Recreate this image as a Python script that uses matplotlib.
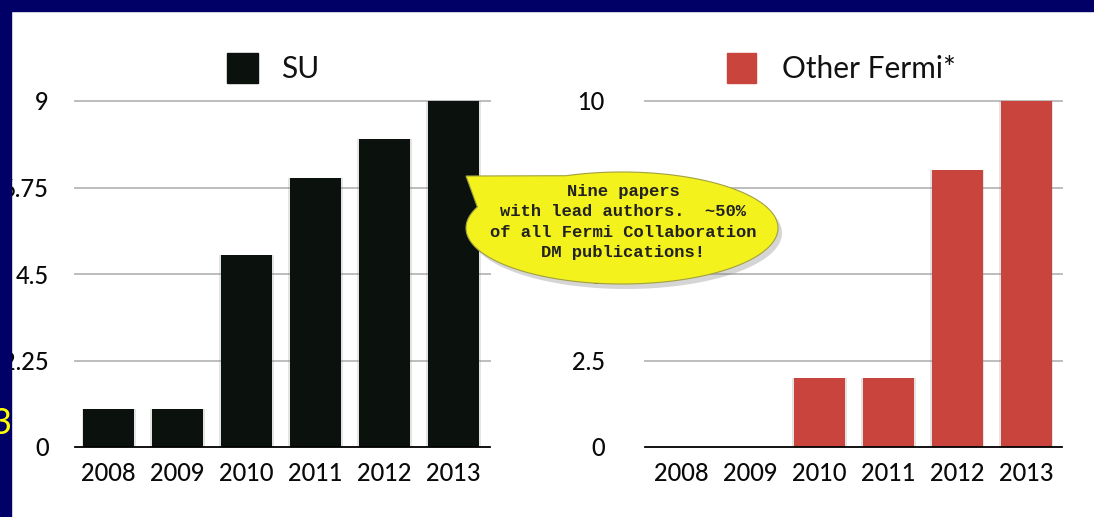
import numpy as np
import matplotlib.pyplot as plt
from matplotlib.patches import Rectangle, Polygon

years = ['2008', '2009', '2010', '2011', '2012', '2013']
su_papers = [1, 1, 5, 7, 8, 9]
other_papers = [0, 0, 2, 2, 8, 10]
su_ticks = [0, 2.25, 4.5, 6.75, 9]
su_tick_labels = ['0', '2.25', '4.5', '6.75', '9']
other_ticks = [0, 2.5, 5, 7.5, 10]
other_tick_labels = ['0', '2.5', '5', '7.5', '10']

su_color = '#0b110d'
other_color = '#c8443c'
W, H = 1094, 517

plt.rcParams['font.family'] = ['Lato', 'DejaVu Sans']
fig = plt.figure(figsize=(W / 100, H / 100), dpi=100)
fig.patch.set_facecolor('white')


def bar_panel(rect, values, color, ticks, labels, ymax, xlim, ypad):
    ax = fig.add_axes(rect)
    x = np.arange(len(years))
    ax.bar(x, values, width=0.79, color='#888888', alpha=0.22, zorder=2)
    ax.bar(x, values, width=0.74, color=color, zorder=3)
    ax.set_xlim(*xlim)
    ax.set_ylim(0, ymax)
    ax.set_yticks(ticks)
    ax.set_yticklabels(labels)
    ax.set_xticks(x)
    ax.set_xticklabels(years)
    for t in ticks[1:]:
        ax.axhline(t, color='#bdbdbd', lw=1.4, zorder=1, clip_on=False)
    for s in ['top', 'right', 'left']:
        ax.spines[s].set_visible(False)
    ax.spines['bottom'].set_color('black')
    ax.spines['bottom'].set_linewidth(1.3)
    ax.spines['bottom'].set_zorder(4)
    ax.tick_params(axis='x', length=0, pad=11, labelsize=17, labelcolor='#0a0a0a')
    ax.tick_params(axis='y', length=0, pad=ypad, labelsize=17, labelcolor='#0a0a0a')
    for lab in ax.get_xticklabels() + ax.get_yticklabels():
        lab.set_fontweight('medium')
    ax.set_facecolor('none')
    return ax


bar_panel([75 / W, 1 - 447 / H, 415 / W, 346 / H], su_papers, su_color,
          su_ticks, su_tick_labels, 9, (-0.49, 5.53), 19)
bar_panel([645 / W, 1 - 447 / H, 417 / W, 346 / H], other_papers, other_color,
          other_ticks, other_tick_labels, 10, (-0.53, 5.52), 29)

# overlay in pixel coordinates: legends, callout, slide frame
ov = fig.add_axes([0, 0, 1, 1], zorder=5)
ov.set_xlim(0, W)
ov.set_ylim(H, 0)
ov.axis('off')
ov.patch.set_alpha(0)

ov.add_patch(Rectangle((227, 53), 31, 30, color=su_color))
ov.text(281, 69, 'SU', fontsize=21.5, va='center', ha='left', color='#111111')
ov.add_patch(Rectangle((727, 53), 29, 30, color=other_color))
ov.text(782, 69, 'Other Fermi*', fontsize=21.5, va='center', ha='left', color='#111111')

# speech bubble
cx, cy, a, b = 622, 228, 156, 56
th = np.radians(np.linspace(0, 360, 361))
pts = np.column_stack([cx + a * np.cos(th), cy + b * np.sin(th)])
deg = np.degrees(th)
keep = (deg < 203) | (deg > 248)
idx = np.searchsorted(deg, 203)
bub = np.vstack([pts[:idx], [[466, 176]], pts[keep][idx:]])
ov.add_patch(Polygon(bub + [4, 5], closed=True, color='#777777', alpha=0.3, lw=0))
ov.add_patch(Polygon(bub, closed=True, facecolor='#f4f21c', edgecolor='#a0a040', lw=0.8))
ov.text(623, 222, 'Nine papers\nwith lead authors.  ~50%\nof all Fermi Collaboration\nDM publications!',
        family=['Liberation Mono', 'DejaVu Sans Mono'], fontweight='bold', fontsize=12.3,
        ha='center', va='center', multialignment='center', linespacing=1.45, color='#222222')

# slide frame
ov.add_patch(Rectangle((0, 0), W, 11, color='#000066'))
ov.add_patch(Rectangle((0, 0), 11, H, color='#000066'))
ov.text(11, 423, '3', fontsize=26, color='#ffff00', ha='right', va='center')

fig.savefig('out.png', dpi=100)
